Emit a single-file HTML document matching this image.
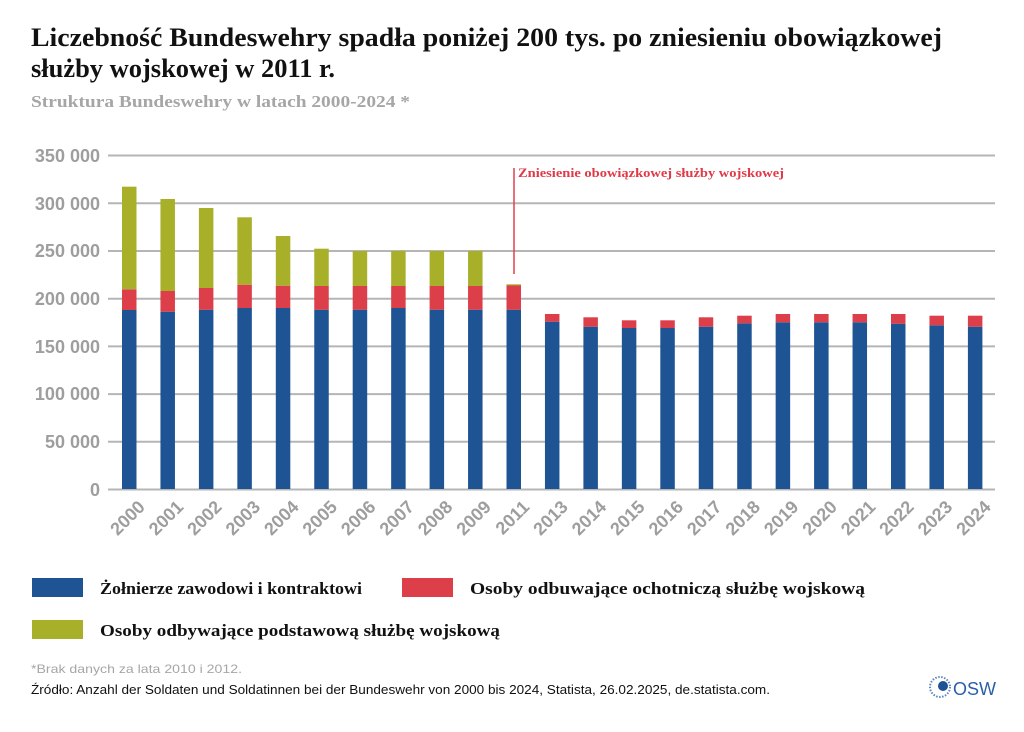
<!DOCTYPE html>
<html><head><meta charset="utf-8"><style>
body{margin:0;background:#fff;width:1024px;height:732px;overflow:hidden}
svg{display:block}
.t{font-family:"Liberation Serif",serif;font-weight:bold}
.s{font-family:"Liberation Sans",sans-serif}
</style></head><body>
<svg width="1024" height="732" viewBox="0 0 1024 732" xmlns="http://www.w3.org/2000/svg">
<text class="t" x="31" y="46" font-size="26" fill="#111" textLength="911" lengthAdjust="spacingAndGlyphs">Liczebność Bundeswehry spadła poniżej 200 tys. po zniesieniu obowiązkowej</text>
<text class="t" x="31" y="77" font-size="26" fill="#111" textLength="304" lengthAdjust="spacingAndGlyphs">służby wojskowej w 2011 r.</text>
<text class="t" x="31" y="107" font-size="17" fill="#a6a6a6" textLength="379" lengthAdjust="spacingAndGlyphs">Struktura Bundeswehry w latach 2000-2024 *</text>
<g stroke="#b5b5b5" stroke-width="2">
<line x1="108" x2="995" y1="155.5" y2="155.5"/><line x1="108" x2="995" y1="203.3" y2="203.3"/>
<line x1="108" x2="995" y1="251" y2="251"/><line x1="108" x2="995" y1="298.7" y2="298.7"/>
<line x1="108" x2="995" y1="346.4" y2="346.4"/><line x1="108" x2="995" y1="394.1" y2="394.1"/>
<line x1="108" x2="995" y1="441.8" y2="441.8"/><line x1="108" x2="995" y1="489.5" y2="489.5"/>
</g>
<g class="s" font-size="18" font-weight="bold" fill="#9e9e9e" text-anchor="end">
<text x="100" y="162">350 000</text><text x="100" y="210">300 000</text><text x="100" y="257">250 000</text>
<text x="100" y="305">200 000</text><text x="100" y="353">150 000</text><text x="100" y="400">100 000</text>
<text x="100" y="448">50 000</text><text x="100" y="496">0</text>
</g>
<g id="bars"></g>
<line x1="514" x2="514" y1="168" y2="274" stroke="#e04050" stroke-width="1.5"/>
<text class="t" x="518" y="177" font-size="13" fill="#e03a48" textLength="266" lengthAdjust="spacingAndGlyphs">Zniesienie obowiązkowej służby wojskowej</text>
<g id="xl" class="s" font-size="18" font-weight="bold" fill="#9e9e9e" text-anchor="end"></g>
<rect x="32" y="578" width="51" height="19" fill="#1f5494"/>
<text class="t" x="100" y="594" font-size="17" fill="#111" textLength="262" lengthAdjust="spacingAndGlyphs">Żołnierze zawodowi i kontraktowi</text>
<rect x="402" y="578" width="51" height="19" fill="#dd3f4a"/>
<text class="t" x="470" y="594" font-size="17" fill="#111" textLength="395" lengthAdjust="spacingAndGlyphs">Osoby odbuwające ochotniczą służbę wojskową</text>
<rect x="32" y="620" width="51" height="19" fill="#a8b02a"/>
<text class="t" x="100" y="636" font-size="17" fill="#111" textLength="400" lengthAdjust="spacingAndGlyphs">Osoby odbywające podstawową służbę wojskową</text>
<text class="s" x="31" y="673" font-size="12" fill="#a6a6a6" textLength="211" lengthAdjust="spacingAndGlyphs">*Brak danych za lata 2010 i 2012.</text>
<text class="s" x="31" y="694" font-size="13" fill="#111" textLength="739" lengthAdjust="spacingAndGlyphs">Źródło: Anzahl der Soldaten und Soldatinnen bei der Bundeswehr von 2000 bis 2024, Statista, 26.02.2025, de.statista.com.</text>
<circle cx="940" cy="687" r="10" fill="none" stroke="#5a86c0" stroke-width="2" stroke-dasharray="1.5 1.5"/>
<circle cx="943" cy="686" r="5" fill="#1f5494"/>
<text class="s" x="953" y="695" font-size="18" fill="#2a5fa8">OSW</text>
</svg>
<script>
var d=[[310,289.3,186.7],[311.7,291,199],[309.7,288,208],[308,284.7,217.3],[308,285.7,236],[309.7,286,248.7],[309.7,286,251],[308,286,251],[309.7,286,251],[309.7,286,251],[309.7,285.5,284.3],
[321.7,314],[326.7,317.3],[328,320.3],[328,320.3],[326.7,317.3],[323.3,315.7],[322.3,314],[322.3,314],[322.3,314],[323.7,314],[325.3,315.7],[326.7,315.7]];
var yrs=["2000","2001","2002","2003","2004","2005","2006","2007","2008","2009","2011","2013","2014","2015","2016","2017","2018","2019","2020","2021","2022","2023","2024"];
var ns="http://www.w3.org/2000/svg",b=document.getElementById("bars"),xl=document.getElementById("xl");
function r(x,y1,y2,c){var e=document.createElementNS(ns,"rect");e.setAttribute("x",x);e.setAttribute("y",y1);e.setAttribute("width",14.5);e.setAttribute("height",y2-y1);e.setAttribute("fill",c);b.appendChild(e);}
d.forEach(function(v,i){var x=122+i*38.45;r(x,v[0],489,"#1f5494");r(x,v[1],v[0],"#dd3f4a");if(v[2])r(x,v[2],v[1],"#a8b02a");
var t=document.createElementNS(ns,"text");var cx=x+24,cy=508;t.setAttribute("x",cx);t.setAttribute("y",cy);t.setAttribute("transform","rotate(-45 "+cx+" "+cy+")");t.textContent=yrs[i];xl.appendChild(t);});
</script>
</body></html>
